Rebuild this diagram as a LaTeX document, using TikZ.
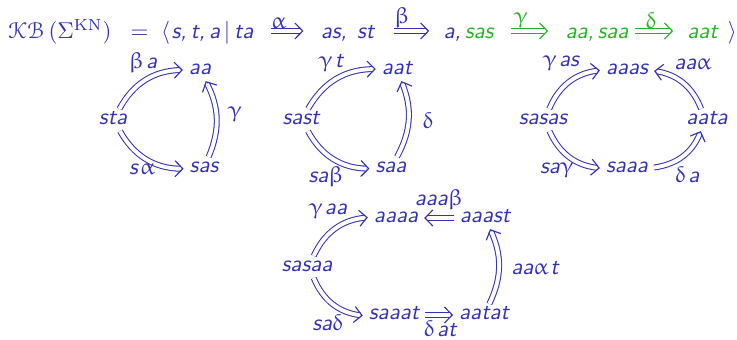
\documentclass[tikz,border=0pt]{standalone}
\usepackage{amsmath}
\usepackage[mathcal]{eucal}
\usepackage[Euler]{upgreek}
\usetikzlibrary{arrows.meta}
\definecolor{bl}{rgb}{0.2,0.2,0.7}
\definecolor{gr}{RGB}{40,180,40}
\newcommand{\gsp}{\hspace{0.9pt}}
\begin{document}
\begin{tikzpicture}[x=0.437pt,y=-0.437pt,
  word/.style={font=\sffamily\itshape, text=bl, text height=1ex, text depth=0pt, inner sep=2.5pt},
  ttl/.style={font=\sffamily\itshape, text=bl, inner sep=0pt, anchor=base},
  lbl/.style={font=\sffamily\itshape, text=bl, inner sep=1pt},
  dbl/.style={draw=#1, double, double distance=1.7pt, line width=0.45pt, shorten >=1.2pt,
     postaction={draw=#1, line width=0.5pt, dash pattern=on 0pt off 2000pt, shorten >=0pt,
       -{Straight Barb[length=3.4pt,width=7pt]}}},
  dbl/.default=bl,
  ]
\useasboundingbox (0,0) rectangle (737,340);
% title
\node[ttl, anchor=base west] (T0) at (8,39) {$\mathcal{K}\mathcal{B}\,(\Sigma^{\mathrm{KN}})\;\;=\;\langle$};
\node[ttl] (T1) at (212.5,39) {s,\,t,\,a\,$|$\,ta};
\node[ttl] (T2) at (347.5,39) {as,\;\,st};
\node[ttl] (T3) at (468.5,39) {a,\,\textcolor{gr}{sas}};
\node[ttl, text=gr] (T4) at (597,39) {aa,\,saa};
\node[ttl, anchor=base west] (T5) at (687,39) {\textcolor{gr}{aat}\;\,$\rangle$};
\draw[dbl, shorten <=7.4pt] ([yshift=3.5pt]T1.base east) -- node[lbl, above]{$\upalpha$} ([xshift=-7.4pt, yshift=3.5pt]T2.base west);
\draw[dbl, shorten <=8.3pt] ([yshift=3.5pt]T2.base east) -- node[lbl, above]{$\upbeta$} ([xshift=-6.1pt, yshift=3.5pt]T3.base west);
\draw[dbl=gr, shorten <=7.4pt] ([yshift=3.5pt]T3.base east) -- node[lbl, above, text=gr]{$\upgamma$} ([xshift=-7.4pt, yshift=3.5pt]T4.base west);
\draw[dbl=gr, shorten <=2.6pt] ([yshift=3.5pt]T4.base east) -- node[lbl, above, text=gr]{$\updelta$} ([xshift=-6.1pt, yshift=3.5pt]T5.base west);
% diagram 1
\node[word] (sta) at (113,120) {sta};
\node[word] (aa) at (200,70) {aa};
\node[word] (sas) at (204,168) {sas};
\draw[dbl] (sta) to[bend left=30] (aa);
\draw[dbl] (sta) to[bend right=30] (sas);
\draw[dbl] (sas) to[bend right=25] (aa);
\node[lbl] (l1) at (143,63) {$\upbeta$\gsp a};
\node[lbl] (l2) at (142,169) {s\gsp$\upalpha$};
\node[lbl] (l3) at (235,114) {$\upgamma$};
% diagram 2
\node[word] (sast) at (301,120) {sast};
\node[word] (aat) at (397,70) {aat};
\node[word] (saa) at (391,168) {saa};
\draw[dbl] (sast) to[bend left=30] (aat);
\draw[dbl] (sast) to[bend right=30] (saa);
\draw[dbl] (saa) to[bend right=25] (aat);
\node[lbl] (l4) at (331,63) {$\upgamma$\gsp t};
\node[lbl] (l5) at (326,177) {sa$\upbeta$};
\node[lbl] (l6) at (428,121) {$\updelta$};
% diagram 3
\node[word] (sasas) at (543,120) {sasas};
\node[word] (aaas) at (627,70) {aaas};
\node[word] (aata) at (707,120) {aata};
\node[word] (saaa) at (627,168) {saaa};
\draw[dbl] (sasas) to[bend left=30] (aaas);
\draw[dbl] (aata) to[bend right=30] (aaas);
\draw[dbl] (sasas) to[bend right=30] (saaa);
\draw[dbl] (saaa) to[bend right=30] (aata);
\node[lbl] (l7) at (561,63) {$\upgamma$\gsp as};
\node[lbl] (l8) at (693,64) {aa$\upalpha$};
\node[lbl] (l9) at (557,170) {sa$\upgamma$};
\node[lbl] (l10) at (687,175) {$\updelta$\gsp a};
% diagram 4
\node[word] (sasaa) at (307,267) {sasaa};
\node[word] (aaaa) at (396,218) {aaaa};
\node[word] (aaast) at (485,218) {aaast};
\node[word] (saaat) at (394,315) {saaat};
\node[word] (aatat) at (484,315) {aatat};
\draw[dbl] (sasaa) to[bend left=30] (aaaa);
\draw[dbl] (aaast) -- (aaaa);
\draw[dbl] (sasaa) to[bend right=30] (saaat);
\draw[dbl] (saaat) -- (aatat);
\draw[dbl] (aatat) to[bend right=25] (aaast);
\node[lbl] (l11) at (328,211) {$\upgamma$\gsp aa};
\node[lbl] (l12) at (439,200) {aaa$\upbeta$};
\node[lbl] (l13) at (328,323) {sa$\updelta$};
\node[lbl] (l14) at (440,329) {$\updelta$\gsp at};
\node[lbl] (l15) at (535,268) {aa$\upalpha$\gsp t};
\end{tikzpicture}
\end{document}
